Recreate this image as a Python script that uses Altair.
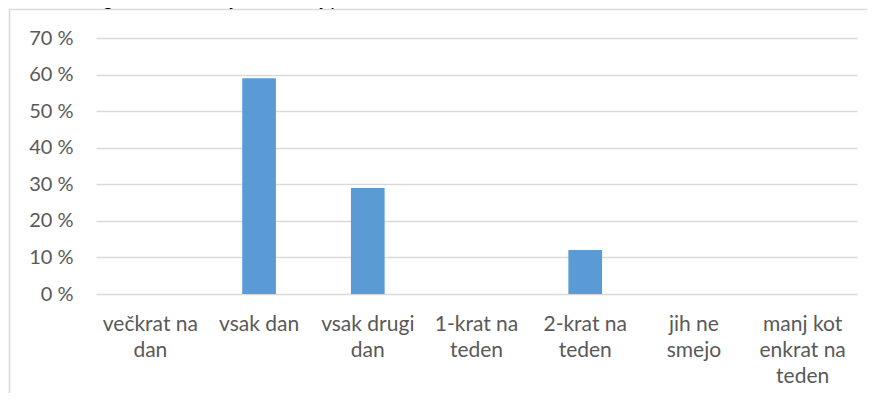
import json
import altair as alt
import pandas as pd

# ---- data ----
categories = [
    "večkrat na dan",
    "vsak dan",
    "vsak drugi dan",
    "1-krat na teden",
    "2-krat na teden",
    "jih ne smejo",
    "manj kot enkrat na teden",
]
label_lines = [
    ["večkrat na", "dan"],
    ["vsak dan"],
    ["vsak drugi", "dan"],
    ["1-krat na", "teden"],
    ["2-krat na", "teden"],
    ["jih ne", "smejo"],
    ["manj kot", "enkrat na", "teden"],
]
values = [0, 59, 29, 0, 12, 0, 0]
y_ticks = [0, 10, 20, 30, 40, 50, 60, 70]
title_text = "Graf 15: Pogostost uživanja sladkanj pri otrocih"

df = pd.DataFrame({"kategorija": categories, "delez": values})
label_map = json.dumps(dict(zip(categories, label_lines)), ensure_ascii=False)

W, H = 761, 256
PAD_L, PAD_T = 88, 30
GRAY_TXT = "#595959"
GRID = "#d9d9d9"

bars = alt.Chart(df).mark_bar(color="#5b9bd5").encode(
    x=alt.X(
        "kategorija:N",
        sort=categories,
        scale=alt.Scale(paddingInner=0.69, paddingOuter=0.345),
        axis=alt.Axis(
            title=None,
            labelAngle=0,
            labelExpr=f"{label_map}[datum.label]",
            labelFont="Lato",
            labelFontSize=21,
            labelColor=GRAY_TXT,
            labelLineHeight=26,
            labelBaseline="top",
            labelPadding=19,
            labelLimit=0,
            ticks=False,
            tickSize=0,
            domain=False,
            grid=False,
        ),
    ),
    y=alt.Y(
        "delez:Q",
        scale=alt.Scale(domain=[0, 70], nice=False),
        axis=alt.Axis(
            title=None,
            values=y_ticks,
            labelExpr="datum.value + ' %'",
            labelFont="Lato",
            labelFontSize=20,
            labelColor=GRAY_TXT,
            labelPadding=23,
            ticks=False,
            tickSize=0,
            domain=False,
            grid=True,
            gridColor=GRID,
            gridWidth=1.5,
        ),
    ),
)

frame = alt.Chart(pd.DataFrame({"k": [0]})).mark_rect(
    fillOpacity=0, stroke=GRID, strokeWidth=1.5
).encode(
    x=alt.value(-PAD_L + 1.5),
    x2=alt.value(W + 40),
    y=alt.value(-PAD_T + 1.5),
    y2=alt.value(H + 200),
)

title = alt.Chart(pd.DataFrame({"t": [title_text]})).mark_text(
    font="Liberation Sans", fontSize=20, align="left", baseline="alphabetic", color="#000000"
).encode(
    text="t:N",
    x=alt.value(-PAD_L - 8),
    y=alt.value(-PAD_T - 3),
)

chart = alt.layer(frame, bars, title).properties(
    width=W,
    height=H,
    autosize=alt.AutoSizeParams(type="none"),
    padding={"left": PAD_L, "top": PAD_T, "right": 10, "bottom": 99},
).configure_view(strokeWidth=0)

chart.save("out.html", embed_options={"renderer": "svg", "actions": False})
